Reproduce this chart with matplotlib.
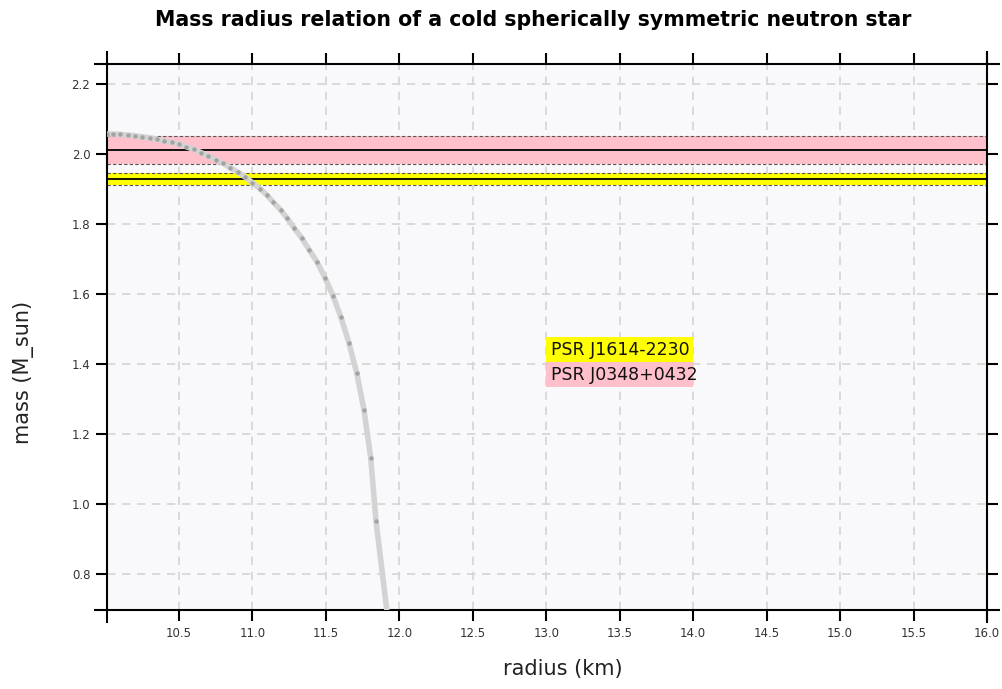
import matplotlib
matplotlib.use("Agg")
from matplotlib import pyplot as plt
from matplotlib.patches import Rectangle

# Mass-radius curve (km, solar masses)
radius = [10.01, 10.05, 10.10, 10.15, 10.20, 10.25, 10.30, 10.35, 10.40, 10.45,
          10.50, 10.55, 10.60, 10.65, 10.70, 10.75, 10.80, 10.85, 10.90, 10.95,
          11.00, 11.05, 11.10, 11.14, 11.192, 11.235, 11.283, 11.335, 11.385,
          11.440, 11.494, 11.548, 11.603, 11.657, 11.710, 11.759, 11.805,
          11.841, 11.925]
mass = [2.057, 2.057, 2.056, 2.054, 2.052, 2.049, 2.046, 2.042, 2.037, 2.033,
        2.028, 2.021, 2.013, 2.004, 1.994, 1.984, 1.973, 1.961, 1.948, 1.934,
        1.918, 1.901, 1.882, 1.863, 1.840, 1.817, 1.789, 1.760, 1.727,
        1.691, 1.646, 1.595, 1.533, 1.460, 1.374, 1.269, 1.132,
        0.952, 0.660]

# Measured pulsar masses: name, mean, error
pulsars = ["PSR J1614-2230", "PSR J0348+0432"]
pulsar_mass = [1.928, 2.01]
pulsar_err = [0.017, 0.04]
pulsar_color = ["#ffff00", "#ffc0cb"]

xticks = [10.5, 11.0, 11.5, 12.0, 12.5, 13.0, 13.5, 14.0, 14.5, 15.0, 15.5, 16.0]
yticks = [0.8, 1.0, 1.2, 1.4, 1.6, 1.8, 2.0, 2.2]
xlim = (10.01, 16.0)
ylim = (0.697, 2.257)

fig = plt.figure(figsize=(10.03, 6.89), dpi=100)
ax = fig.add_axes([107 / 1003, 79 / 689, 880 / 1003, 546 / 689])
ax.set_facecolor("#f9f9fc")

ax.grid(True, color="#d4d4d4", linestyle=(0, (5, 4)), linewidth=1.2)
ax.set_axisbelow(True)

# error bands for the pulsars
for m, e, c in zip(pulsar_mass, pulsar_err, pulsar_color):
    ax.axhspan(m - e, m + e, color=c, zorder=1, lw=0)
    ax.axhline(m - e, color="#555555", ls=(0, (3, 2)), lw=0.8, zorder=2)
    ax.axhline(m + e, color="#555555", ls=(0, (3, 2)), lw=0.8, zorder=2)
    ax.axhline(m, color="black", lw=1.3, zorder=2)

ax.plot(radius, mass, color="#d3d3d3", lw=4.0, marker="o", ms=3.2,
        mfc="#a3a3a3", mec="none", zorder=3, solid_capstyle="butt")

# name boxes
box_top = 1.477
box_h = 0.0715
for i, (name, c) in enumerate(zip(pulsars, pulsar_color)):
    y0 = box_top - (i + 1) * box_h
    ax.add_patch(Rectangle((13.0, y0), 1.0, box_h, color=c, lw=0, zorder=4))
    ax.text(13.035, y0 + box_h / 2, name, fontsize=12.5, va="center",
            ha="left", color="#111111", zorder=5)

ax.set_xlim(*xlim)
ax.set_ylim(*ylim)
ax.set_xticks(xticks)
ax.set_yticks(yticks)
ax.set_xticklabels([f"{v:.1f}" for v in xticks])
ax.set_yticklabels([f"{v:.1f}" for v in yticks])

ax.tick_params(direction="out", length=8, width=1.5, top=True, right=True,
               labelsize=8.5, labelcolor="#333333", color="black", pad=4)

# axis lines run a little past the plot area
dx = 12 / 148
dy = 12 / 350
for side in ["left", "right"]:
    ax.spines[side].set_linewidth(1.5)
    ax.spines[side].set_bounds(ylim[0] - dy, ylim[1] + dy)
for side in ["top", "bottom"]:
    ax.spines[side].set_linewidth(1.5)
    ax.spines[side].set_bounds(xlim[0] - dx, xlim[1] + dx)

ax.set_xlabel("radius (km)", fontsize=15, color="#222222")
ax.xaxis.set_label_coords(0.518, -0.09)
ax.xaxis.label.set_va("top")
ax.set_ylabel("mass (M_sun)", fontsize=15, color="#222222")
ax.yaxis.set_label_coords(-0.095, 0.436)
ax.yaxis.label.set_va("center")

fig.text(0.532, 1 - 20 / 689, "Mass radius relation of a cold spherically symmetric neutron star",
         ha="center", va="center", fontsize=14.8, fontweight="bold")

fig.savefig("out.png", dpi=100)
